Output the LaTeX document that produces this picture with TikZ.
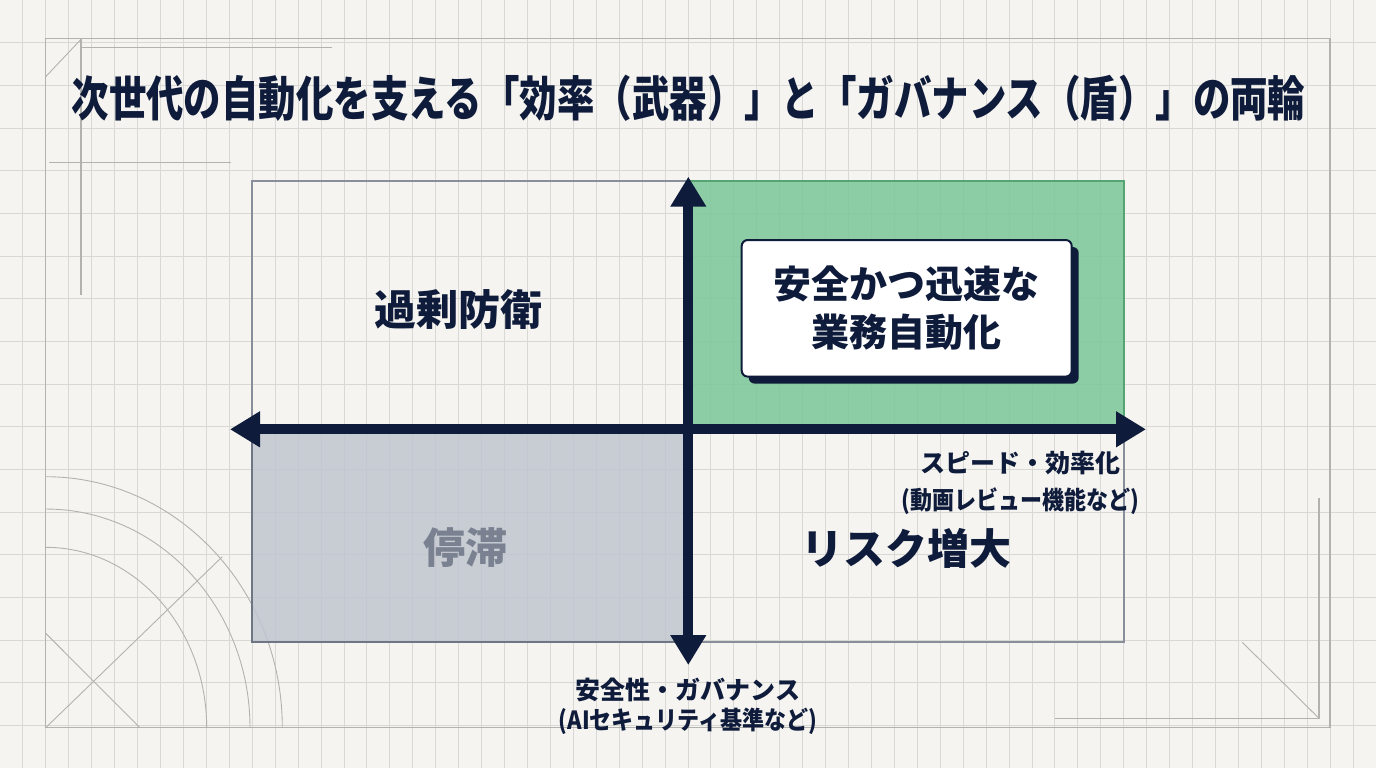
\documentclass[tikz,border=0pt]{standalone}
\usepackage{fontspec}
\usepackage{graphicx}
\setmainfont{Noto Sans CJK JP}
\usetikzlibrary{arrows.meta,shadows}
\definecolor{navy}{RGB}{14,27,58}
\definecolor{bgc}{RGB}{245,244,240}
\definecolor{gridc}{RGB}{216,216,212}
\definecolor{framec}{RGB}{178,178,175}
\definecolor{quadedge}{RGB}{136,142,154}
\definecolor{greenfill}{RGB}{123,199,153}
\definecolor{greenedge}{RGB}{86,164,116}
\definecolor{grayfill}{RGB}{193,197,207}
\definecolor{grayedge}{RGB}{110,118,132}
\definecolor{stallgray}{RGB}{122,130,146}
\begin{document}
\begin{tikzpicture}[x=0.5pt,y=-0.5pt,
  gridline/.style={draw=gridc,line width=0.5pt},
  frameline/.style={draw=framec,line width=0.7pt},
  thinline/.style={draw=framec,line width=0.45pt},
  quadframe/.style={draw=quadedge,line width=1pt},
  axis/.style={draw=navy,line width=5pt,{Triangle[length=15pt,width=17pt]}-{Triangle[length=15pt,width=17pt]}},
  card/.style={draw=navy,line width=1pt,fill=white,rounded corners=3pt,
    minimum width=165pt,minimum height=68.3pt,align=center,inner sep=0pt,
    font=\fontsize{19}{24.2}\selectfont\bfseries,text=navy,
    drop shadow={shadow xshift=3.5pt,shadow yshift=-3.5pt,fill=navy,opacity=1}},
  quadlabel/.style={font=\fontsize{21}{25}\selectfont\bfseries,text=navy,inner sep=0pt},
  axlabel/.style={font=\fontsize{12.5}{18.85}\selectfont\bfseries,text=navy,align=center,inner sep=0pt},
  titlestyle/.style={font=\fontsize{24}{28}\selectfont\bfseries,text=navy,inner sep=0pt}
]
\useasboundingbox (0,0) rectangle (1376,768);
\fill[bgc] (0,0) rectangle (1376,768);
% grid
\foreach \i in {1,...,59} \draw[gridline] (\i*22.9333,0) -- (\i*22.9333,768);
\foreach \j in {1,...,17} \draw[gridline] (0,\j*42.6667) -- (1376,\j*42.6667);
% decorative frame
\draw[frameline] (45.7,38.3) rectangle (1330,727.7);
\draw[thinline] (45.7,76.7) -- (81,39.3);
\draw[frameline] (81,39.3) -- (81,295);
\draw[frameline] (81,47.7) -- (332,47.7);
\draw[frameline] (49,162.3) -- (231,162.3);
\draw[thinline] (282.3,727.7) arc[start angle=0,end angle=-90,x radius=236.6,y radius=251];
\draw[thinline] (250,727.7) arc[start angle=0,end angle=-90,x radius=204.3,y radius=218.7];
\draw[thinline] (206.7,727.7) arc[start angle=0,end angle=-90,x radius=161,y radius=180.4];
\draw[thinline] (45.7,727.7) -- (222.3,556.7);
\draw[thinline] (45.7,633.3) -- (140,727.7);
\draw[frameline] (1319,498.3) -- (1319,718.3) -- (1055,718.3);
\draw[thinline] (1242.3,642.3) -- (1319,718.3);
% quadrants
\draw[quadframe] (252,180.7) rectangle (1124,642.3);
\fill[greenfill,fill opacity=0.85] (688.3,180.7) rectangle (1124,429.3);
\draw[draw=greenedge,line width=0.8pt] (688.3,180.7) rectangle (1124,429.3);
\fill[grayfill,fill opacity=0.85] (252,429.3) rectangle (688.3,642.3);
\draw[draw=grayedge,line width=1pt] (252,429.3) |- (688.3,642.3);
% axes
\coordinate (xl) at (230,429.3);
\coordinate (xr) at (1146,429.3);
\coordinate (yt) at (688.3,176.7);
\coordinate (yb) at (688.3,665);
\draw[axis] (xl) -- (xr);
\draw[axis] (yb) -- (yt);
% card
\node[card] (card) at (906.7,308.3) {安全かつ迅速な\\業務自動化};
% quadrant labels
\node[quadlabel] (overdef) at (458,310) {過剰防衛};
\node[quadlabel,text=stallgray] (stall) at (465,548) {停滞};
\node[quadlabel] (risk) at (906.5,548) {リスク増大};
% axis labels
\node[axlabel] (speed) at (1020,483) {スピード・効率化\\\scalebox{0.88}[1]{(動画レビュー機能など)}};
\node[axlabel,font=\fontsize{12.5}{15}\selectfont\bfseries] (safety) at (688,706) {安全性・ガバナンス\\\scalebox{0.88}[1]{(AIセキュリティ基準など)}};
% title
\node[titlestyle] (title) at (688.5,98) {\scalebox{0.78}[1]{次世代の自動化を支える「効率（武器）」と「ガバナンス（盾）」の両輪}};
\end{tikzpicture}
\end{document}
